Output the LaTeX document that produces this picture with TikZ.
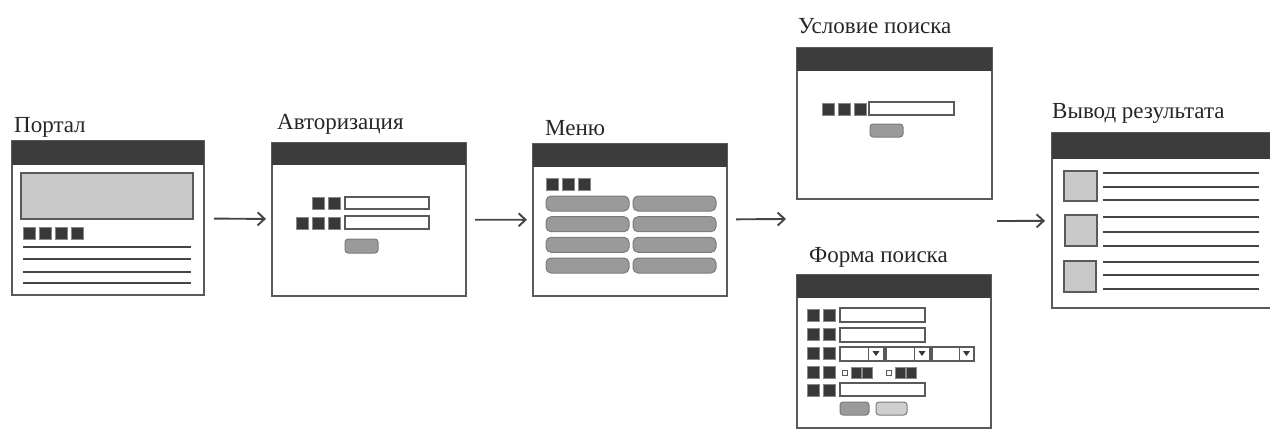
\documentclass[tikz,border=0pt]{standalone}
\usepackage{fontspec}
\setmainfont{Liberation Serif}
\usetikzlibrary{arrows.meta,calc}
\definecolor{bord}{HTML}{5A5A5A}
\definecolor{bardk}{HTML}{3C3C3C}
\definecolor{sqdk}{HTML}{383838}
\definecolor{lightg}{HTML}{C9C9C9}
\definecolor{btng}{HTML}{9A9A9A}
\definecolor{btnl}{HTML}{CFCFCF}
\definecolor{linec}{HTML}{454545}
\tikzset{
  win/.style={draw=bord, line width=1.5pt, fill=white, rectangle, anchor=north west, inner sep=0pt, outer sep=0pt},
  bar/.style={fill=bardk},
  lab/.style={anchor=base west, inner sep=0pt, font=\fontsize{23}{26}\selectfont, text=black!85},
  sqr/.style={fill=sqdk, draw=sqdk!60!white, line width=0.6pt},
  fld/.style={draw=bord, line width=1.2pt, fill=white},
  btn/.style={draw=bord!80, line width=1pt, fill=btng, rounded corners=3pt},
  btnlt/.style={draw=bord!80, line width=1pt, fill=btnl, rounded corners=3pt},
  thumb/.style={draw=bord, line width=1.2pt, fill=lightg},
  txl/.style={draw=linec, line width=2pt},
  arr/.style={draw=linec, line width=1.9pt, -{Straight Barb[length=7pt,width=13pt,line width=1.9pt]}},
}
\begin{document}
\begin{tikzpicture}[x=1pt,y=-1pt]
\useasboundingbox (0,0) rectangle (1270,432);

% ---------------- Portal ----------------
\node[lab] (portalL) at (14,132) {Портал};
\node[win, minimum width=192pt, minimum height=154pt] (portal) at (12,141) {};
\fill[bar] (12,141) rectangle (204,165);
\draw[thumb] (21,173) rectangle (193,219);
\foreach \x in {23,39,55,71} \fill[sqr] (\x,227) rectangle ++(12,12);
\foreach \y in {247,259,272,283} \draw[txl] (23,\y) -- (191,\y);

% ---------------- Authorisation ----------------
\node[lab] (authL) at (277,129) {Авторизация};
\node[win, minimum width=194pt, minimum height=153pt] (auth) at (272,143) {};
\fill[bar] (272,143) rectangle (466,165);
\foreach \x in {312,328} \fill[sqr] (\x,197) rectangle ++(12,12);
\draw[fld] (345,197) rectangle (429,209);
\foreach \x in {296,312,328} \fill[sqr] (\x,217) rectangle ++(12,12);
\draw[fld] (345,216) rectangle (429,229);
\draw[btn] (345,239) rectangle (378,253);

% ---------------- Menu ----------------
\node[lab] (menuL) at (545,135) {Меню};
\node[win, minimum width=194pt, minimum height=152pt] (menu) at (533,144) {};
\fill[bar] (533,144) rectangle (727,167);
\foreach \x in {546,562,578} \fill[sqr] (\x,178) rectangle ++(12,12);
\foreach \y in {196,216.7,237.3,258} {
  \draw[btn, rounded corners=5pt] (546,\y) rectangle ++(83,15);
  \draw[btn, rounded corners=5pt] (633,\y) rectangle ++(83,15);
}

% ---------------- Search condition ----------------
\node[lab] (condL) at (798,33) {Условие поиска};
\node[win, minimum width=195pt, minimum height=151pt] (cond) at (797,48) {};
\fill[bar] (797,48) rectangle (992,71);
\foreach \x in {822,838,854} \fill[sqr] (\x,103) rectangle ++(12,12);
\draw[fld] (869,102) rectangle (954,115);
\draw[btn] (870,124) rectangle (903,137);

% ---------------- Search form ----------------
\node[lab] (formL) at (809,262) {Форма поиска};
\node[win, minimum width=194pt, minimum height=153pt] (form) at (797,275) {};
\fill[bar] (797,275) rectangle (991,298);
\foreach \y in {309,328,347,366,384} {
  \fill[sqr] (807,\y) rectangle ++(12,12);
  \fill[sqr] (823,\y) rectangle ++(12,12);
}
\draw[fld] (840,308) rectangle (925,322);
\draw[fld] (840,328) rectangle (925,342);
\foreach \a/\d/\b in {840/868/884, 886/914/930, 932/959/974} {
  \draw[fld] (\a,347) rectangle (\b,361);
  \draw[bord, line width=1pt] (\d,347) -- (\d,361);
  \fill[sqdk] ($(\d,351)!0.5!(\b,351)+(-3.5,0)$) -- ++(7,0) -- ++(-3.5,5) -- cycle;
}
\foreach \x in {842,886} {
  \draw[bord, line width=0.8pt] (\x,370) rectangle ++(5,5);
  \fill[sqr] (\x+9,367) rectangle ++(10,11);
  \fill[sqr] (\x+20,367) rectangle ++(10,11);
}
\draw[fld] (840,383) rectangle (925,396);
\draw[btn] (840,402) rectangle (869,415);
\draw[btnlt] (876,402) rectangle (907,415);

% ---------------- Result ----------------
\node[lab] (resL) at (1052,118) {Вывод результата};
\node[win, minimum width=224pt, minimum height=175pt] (res) at (1052,133) {};
\fill[bar] (1052,133) rectangle (1276,159);
\draw[thumb] (1064,171) rectangle (1097,201);
\draw[thumb] (1065,215) rectangle (1097,246);
\draw[thumb] (1064,261) rectangle (1096,292);
\foreach \y in {173,187,200,217,232,246,262,275,289} \draw[txl] (1103,\y) -- (1259,\y);

% ---------------- Connectors ----------------
\coordinate (split) at (786,219);
\coordinate (merge) at (997,221);
\draw[arr, shorten <=10pt, shorten >=6pt] (portal) -- (auth);
\draw[arr, shorten <=9pt, shorten >=6pt] (auth) -- (menu);
\draw[arr, shorten <=9pt] (menu) -- (split);
\draw[arr, shorten >=7pt] (merge) -- (res);
\end{tikzpicture}
\end{document}
